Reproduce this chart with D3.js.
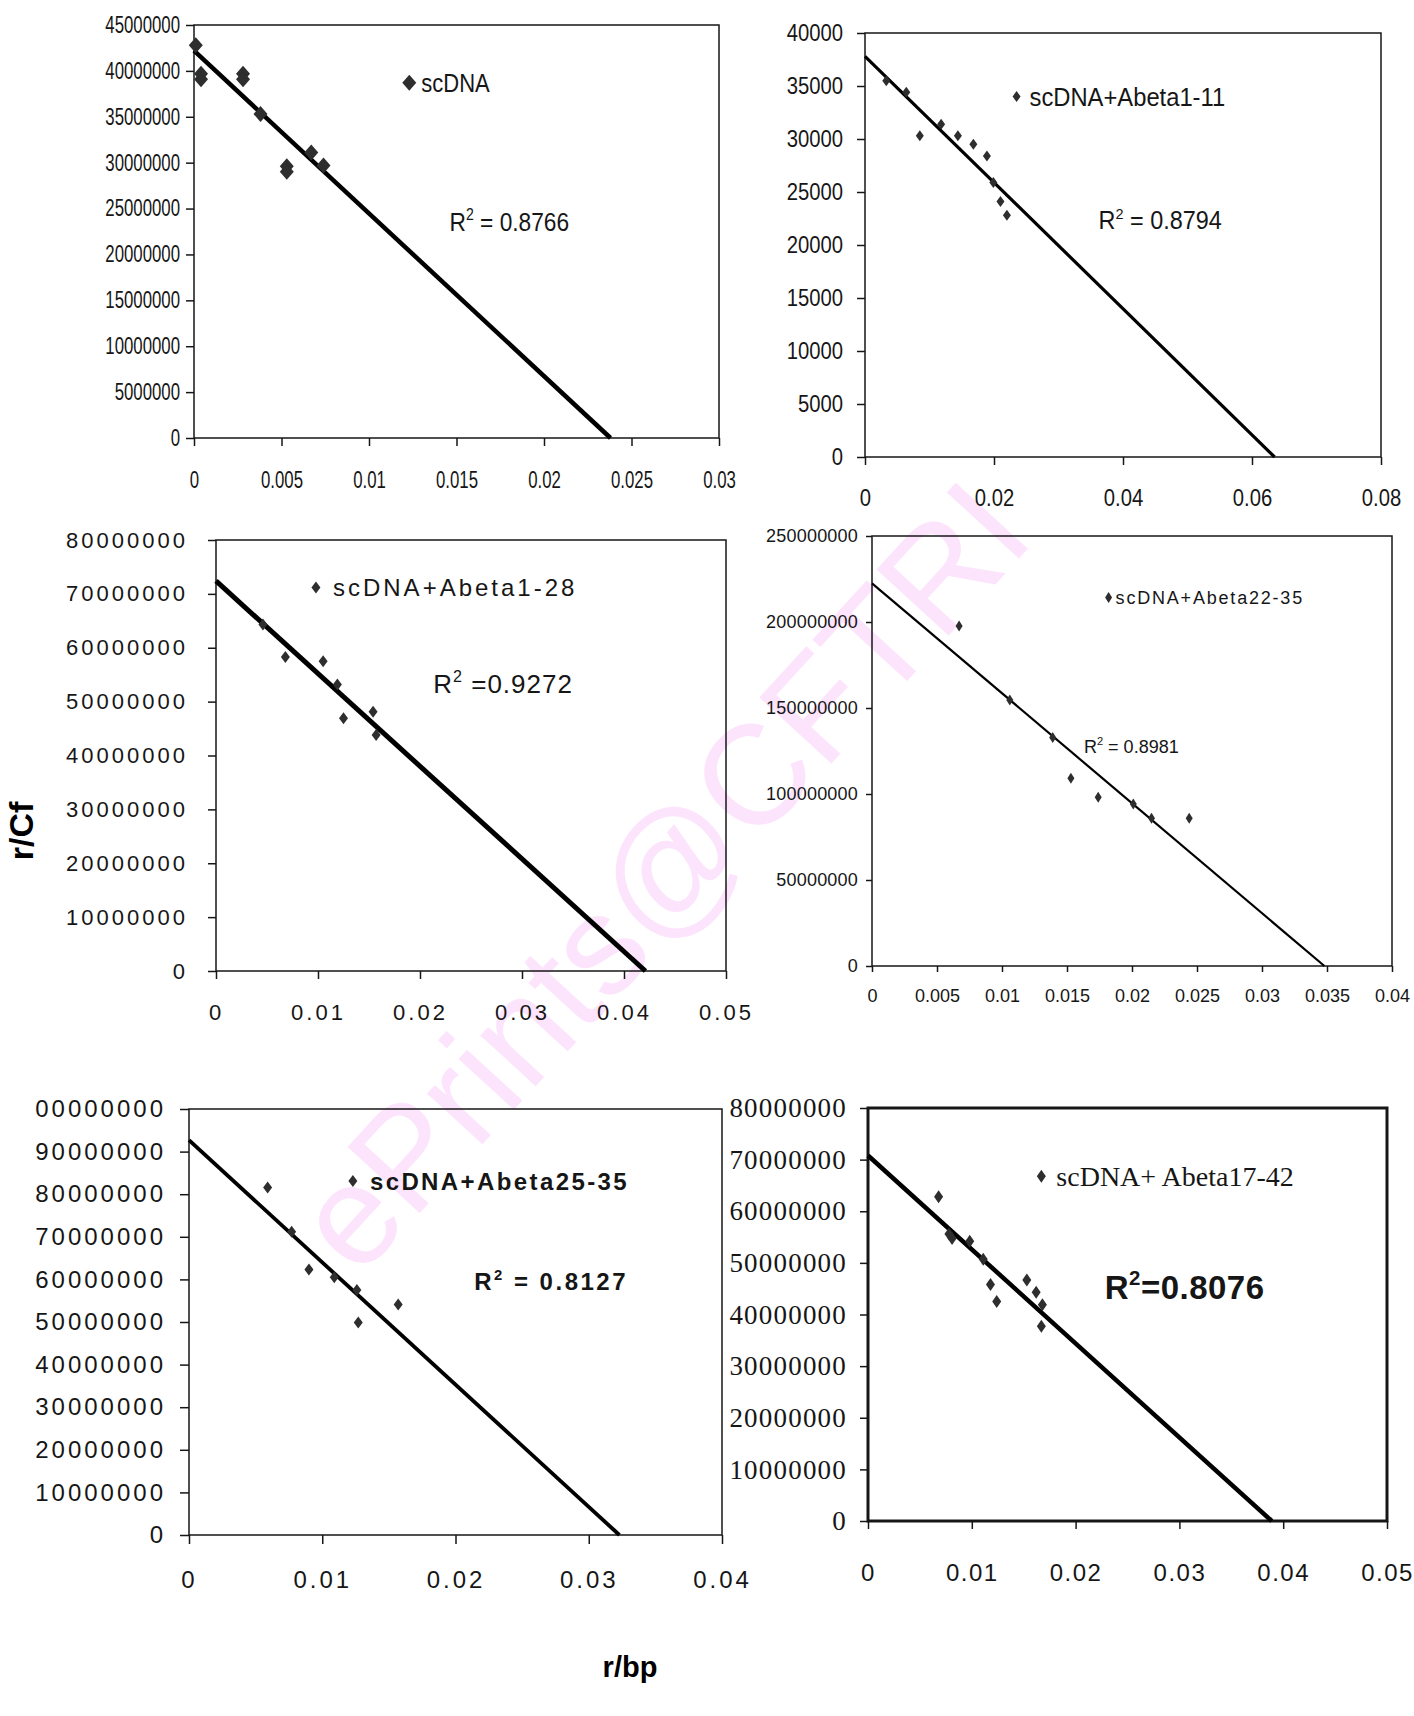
<!DOCTYPE html>
<html>
<head>
<meta charset="utf-8">
<script src="https://cdn.jsdelivr.net/npm/d3@7"></script>
<style>
  html, body { margin: 0; padding: 0; background: #fff; }
  svg { display: block; }
</style>
</head>
<body>
<svg id="fig" width="1414" height="1716"></svg>
<script>
// ---- Scatchard data: r/bp (x) against r/Cf (y) for each scDNA sample ----

// scDNA alone
const scDnaX = [0.0001, 0.0004, 0.0004, 0.0028, 0.0028, 0.0038, 0.0053, 0.0053, 0.0067, 0.0074];
const scDnaY = [42800000, 39700000, 39100000, 39700000, 39100000, 35300000, 29600000, 29000000, 31100000, 29700000];
const scDnaFit = [42200000, 0.0238];            // [y-intercept, x-intercept] of the trend line
const scDnaXTicks = [0, 0.005, 0.01, 0.015, 0.02, 0.025, 0.03];
const scDnaYTicks = [0, 5000000, 10000000, 15000000, 20000000, 25000000, 30000000, 35000000, 40000000, 45000000];

// scDNA + Abeta1-11
const ab111X = [0.0033, 0.0064, 0.0085, 0.0118, 0.0144, 0.0168, 0.0189, 0.0199, 0.0210, 0.0220];
const ab111Y = [35500, 34400, 30300, 31400, 30300, 29500, 28400, 25900, 24100, 22800];
const ab111Fit = [37800, 0.0635];
const ab111XTicks = [0, 0.02, 0.04, 0.06, 0.08];
const ab111YTicks = [0, 5000, 10000, 15000, 20000, 25000, 30000, 35000, 40000];

// scDNA + Abeta1-28
const ab128X = [0.0046, 0.0068, 0.0105, 0.0119, 0.0125, 0.0154, 0.0157];
const ab128Y = [64300000, 58300000, 57500000, 53200000, 46900000, 48100000, 43800000];
const ab128Fit = [72400000, 0.0421];
const ab128XTicks = [0, 0.01, 0.02, 0.03, 0.04, 0.05];
const ab128YTicks = [0, 10000000, 20000000, 30000000, 40000000, 50000000, 60000000, 70000000, 80000000];

// scDNA + Abeta22-35
const ab2235X = [0.0067, 0.0106, 0.0139, 0.0153, 0.0174, 0.0201, 0.0215, 0.0244];
const ab2235Y = [197700000, 154700000, 132800000, 109100000, 98100000, 94200000, 85900000, 85900000];
const ab2235Fit = [222500000, 0.0348];
const ab2235XTicks = [0, 0.005, 0.01, 0.015, 0.02, 0.025, 0.03, 0.035, 0.04];
const ab2235YTicks = [0, 50000000, 100000000, 150000000, 200000000, 250000000];

// scDNA + Abeta25-35
const ab2535X = [0.0059, 0.0077, 0.0090, 0.0109, 0.0126, 0.0127, 0.0157];
const ab2535Y = [81600000, 71200000, 62300000, 60500000, 57500000, 49900000, 54100000];
const ab2535Fit = [92700000, 0.0323];
const ab2535XTicks = [0, 0.01, 0.02, 0.03, 0.04];
const ab2535YTicks = [0, 10000000, 20000000, 30000000, 40000000, 50000000, 60000000, 70000000, 80000000, 90000000, 100000000];

// scDNA + Abeta17-42
const ab1742X = [0.0068, 0.0078, 0.0081, 0.0098, 0.0111, 0.0118, 0.0124, 0.0153, 0.0162, 0.0168, 0.0167];
const ab1742Y = [62800000, 55600000, 54700000, 54200000, 50700000, 45800000, 42500000, 46700000, 44300000, 41900000, 37700000];
const ab1742Fit = [70800000, 0.0389];
const ab1742XTicks = [0, 0.01, 0.02, 0.03, 0.04, 0.05];
const ab1742YTicks = [0, 10000000, 20000000, 30000000, 40000000, 50000000, 60000000, 70000000, 80000000];

// legend names and R² captions
const seriesNames = ["scDNA", "scDNA+Abeta1-11", "scDNA+Abeta1-28", "scDNA+Abeta22-35", "scDNA+Abeta25-35", "scDNA+ Abeta17-42"];
const r2Tails = [" = 0.8766", " = 0.8794", " =0.9272", " = 0.8981", " = 0.8127", "=0.8076"];

// ---- drawing ----
const ink = "#161616";
const dot = "#2e2e2e";
const SANS = "'Liberation Sans', Arial, sans-serif";
const SERIF = "'Liberation Serif', 'Times New Roman', serif";

const svg = d3.select("#fig");
svg.append("rect").attr("width", 1414).attr("height", 1716).attr("fill", "#fff");

// repository stamp across the figure
svg.append("text")
  .attr("transform", "translate(661,876) rotate(-47.5)")
  .attr("text-anchor", "middle")
  .attr("dominant-baseline", "central")
  .attr("font-family", SANS)
  .attr("font-size", 142)
  .attr("fill", "#fde4fd")
  .text("ePrints@CFTRI");

const panels = [
  { xs: scDnaX, ys: scDnaY, fit: scDnaFit, xTicks: scDnaXTicks, yTicks: scDnaYTicks, name: seriesNames[0], r2: r2Tails[0],
    box: { l: 194, r: 719, t: 25, b: 438 }, tick: 8, frameW: 1.5, lineW: 4.5, mark: [7, 8],
    yFont: { family: SANS, size: 23, squeeze: 0.73 }, xFont: { family: SANS, size: 23, squeeze: 0.73 }, yPad: 6, xPad: 26,
    legend: { x: 0.0123, y: 38700000, dx: 12, font: { family: SANS, size: 25, squeeze: 0.88 } },
    r2Pos: { x: 0.0146, y: 22600000, font: { family: SANS, size: 26, squeeze: 0.84 } } },
  { xs: ab111X, ys: ab111Y, fit: ab111Fit, xTicks: ab111XTicks, yTicks: ab111YTicks, name: seriesNames[1], r2: r2Tails[1],
    box: { l: 865, r: 1381, t: 33, b: 457 }, tick: 8, frameW: 1.5, lineW: 3.2, mark: [4, 5.5],
    yFont: { family: SANS, size: 23, squeeze: 0.88 }, xFont: { family: SANS, size: 23, squeeze: 0.88 }, yPad: 14, xPad: 25,
    legend: { x: 0.0235, y: 34000, dx: 13, font: { family: SANS, size: 25, squeeze: 0.95 } },
    r2Pos: { x: 0.0362, y: 21500, font: { family: SANS, size: 25, squeeze: 0.9 } } },
  { xs: ab128X, ys: ab128Y, fit: ab128Fit, xTicks: ab128XTicks, yTicks: ab128YTicks, name: seriesNames[2], r2: r2Tails[2],
    box: { l: 216, r: 726, t: 540, b: 971 }, tick: 8, frameW: 1.5, lineW: 5, mark: [4.5, 6],
    yFont: { family: SANS, size: 22, ls: 3 }, xFont: { family: SANS, size: 22, ls: 3 }, yPad: 20, xPad: 25,
    legend: { x: 0.0098, y: 71200000, dx: 17, font: { family: SANS, size: 24, ls: 3 } },
    r2Pos: { x: 0.0213, y: 51600000, font: { family: SANS, size: 26, ls: 1 } } },
  { xs: ab2235X, ys: ab2235Y, fit: ab2235Fit, xTicks: ab2235XTicks, yTicks: ab2235YTicks, name: seriesNames[3], r2: r2Tails[3],
    box: { l: 872, r: 1392, t: 536, b: 966 }, tick: 6, frameW: 1.5, lineW: 2.2, mark: [3.5, 5.5],
    yFont: { family: SANS, size: 18, ls: 0.2 }, xFont: { family: SANS, size: 18, ls: 0 }, yPad: 8, xPad: 17,
    legend: { x: 0.0182, y: 214300000, dx: 7, font: { family: SANS, size: 18, ls: 1.8 } },
    r2Pos: { x: 0.0163, y: 124000000, font: { family: SANS, size: 18 } } },
  { xs: ab2535X, ys: ab2535Y, fit: ab2535Fit, xTicks: ab2535XTicks, yTicks: ab2535YTicks, name: seriesNames[4], r2: r2Tails[4],
    box: { l: 189, r: 722, t: 1109, b: 1535 }, tick: 9, frameW: 1.5, lineW: 3.8, mark: [4.5, 6], clipLeft: 34,
    yFont: { family: SANS, size: 24, ls: 3 }, xFont: { family: SANS, size: 24, ls: 3 }, yPad: 14, xPad: 27,
    legend: { x: 0.0123, y: 83100000, dx: 17, font: { family: SANS, size: 24, ls: 2.4, weight: "bold" } },
    r2Pos: { x: 0.0214, y: 57500000, font: { family: SANS, size: 24, ls: 2.5, weight: "bold" } } },
  { xs: ab1742X, ys: ab1742Y, fit: ab1742Fit, xTicks: ab1742XTicks, yTicks: ab1742YTicks, name: seriesNames[5], r2: r2Tails[5],
    box: { l: 868, r: 1387, t: 1108, b: 1521 }, tick: 8, frameW: 3, lineW: 4.5, mark: [4.5, 6.5],
    yFont: { family: SERIF, size: 27, ls: 1.2 }, xFont: { family: SANS, size: 24, ls: 1.5 }, yPad: 13, xPad: 35,
    legend: { x: 0.0167, y: 66800000, dx: 15, font: { family: SERIF, size: 28 } },
    r2Pos: { x: 0.0228, y: 43000000, font: { family: SANS, size: 33, ls: 0.5, weight: "bold" } } }
];

function applyFont(sel, f) {
  sel.attr("font-family", f.family)
     .attr("font-size", f.size)
     .attr("font-weight", f.weight || "normal")
     .attr("letter-spacing", f.ls || 0)
     .attr("fill", ink);
  if (f.squeeze) {
    sel.each(function () {
      const w = this.getComputedTextLength();
      d3.select(this).attr("textLength", w * f.squeeze).attr("lengthAdjust", "spacingAndGlyphs");
    });
  }
}

function diamond(w, h) {
  return `M0,${-h}L${w},0L0,${h}L${-w},0Z`;
}

panels.forEach((p, i) => {
  const g = svg.append("g").attr("class", "panel");
  const x = d3.scaleLinear().domain(d3.extent(p.xTicks)).range([p.box.l, p.box.r]);
  const y = d3.scaleLinear().domain(d3.extent(p.yTicks)).range([p.box.b, p.box.t]);

  // plot-area border
  g.append("rect")
    .attr("x", p.box.l).attr("y", p.box.t)
    .attr("width", p.box.r - p.box.l).attr("height", p.box.b - p.box.t)
    .attr("fill", "none").attr("stroke", ink).attr("stroke-width", p.frameW);

  // value axis
  const ya = g.append("g")
    .attr("transform", `translate(${p.box.l},0)`)
    .call(d3.axisLeft(y).tickValues(p.yTicks).tickSize(p.tick).tickPadding(p.yPad).tickFormat(d => String(d)));
  ya.select(".domain").remove();
  ya.attr("font-family", null).attr("font-size", null).attr("color", ink);
  ya.selectAll("line").attr("stroke-width", 1.5);
  applyFont(ya.selectAll("text"), p.yFont);
  if (p.clipLeft) {
    // the top label of this panel runs off the left margin of the figure
    const id = "clip" + i;
    svg.append("clipPath").attr("id", id).append("rect")
      .attr("x", p.clipLeft).attr("y", 0).attr("width", 1414).attr("height", 1716);
    const wrap = g.append("g").attr("clip-path", `url(#${id})`);
    wrap.node().appendChild(ya.node());
  }

  // r/bp axis
  const xa = g.append("g")
    .attr("transform", `translate(0,${p.box.b})`)
    .call(d3.axisBottom(x).tickValues(p.xTicks).tickSize(p.tick).tickPadding(p.xPad).tickFormat(d => String(d)));
  xa.select(".domain").remove();
  xa.attr("font-family", null).attr("font-size", null).attr("color", ink);
  xa.selectAll("line").attr("stroke-width", 1.5);
  applyFont(xa.selectAll("text"), p.xFont);

  // linear trend line from the y-intercept down to the x-intercept
  g.append("line")
    .attr("x1", x(0)).attr("y1", y(p.fit[0]))
    .attr("x2", x(p.fit[1])).attr("y2", y(0))
    .attr("stroke", "#000").attr("stroke-width", p.lineW).attr("stroke-linecap", "butt");

  // measured points
  g.append("g").selectAll("path")
    .data(d3.zip(p.xs, p.ys))
    .join("path")
    .attr("transform", d => `translate(${x(d[0])},${y(d[1])})`)
    .attr("d", diamond(p.mark[0], p.mark[1]))
    .attr("fill", dot);

  // legend entry
  const lx = x(p.legend.x), ly = y(p.legend.y);
  g.append("path").attr("transform", `translate(${lx},${ly})`).attr("d", diamond(p.mark[0], p.mark[1])).attr("fill", dot);
  const lt = g.append("text")
    .attr("x", lx + p.legend.dx).attr("y", ly + p.legend.font.size * 0.36)
    .text(p.name);
  applyFont(lt, p.legend.font);

  // R² caption
  const f = p.r2Pos.font;
  const rt = g.append("text").attr("x", x(p.r2Pos.x)).attr("y", y(p.r2Pos.y));
  rt.append("tspan").text("R");
  rt.append("tspan").attr("dy", -f.size * 0.42).text("2");
  rt.append("tspan").attr("dy", f.size * 0.42).text(p.r2);
  applyFont(rt, f);
  rt.selectAll("tspan").filter((d, k) => k === 1).attr("font-size", f.size * 0.62);
});

// shared axis titles
svg.append("text")
  .attr("transform", "translate(33,831) rotate(-90)")
  .attr("text-anchor", "middle")
  .attr("font-family", SANS).attr("font-weight", "bold").attr("font-size", 34)
  .attr("fill", "#000")
  .text("r/Cf");

svg.append("text")
  .attr("x", 630).attr("y", 1677)
  .attr("text-anchor", "middle")
  .attr("font-family", SANS).attr("font-weight", "bold").attr("font-size", 29)
  .attr("fill", "#000")
  .text("r/bp");
</script>
</body>
</html>
